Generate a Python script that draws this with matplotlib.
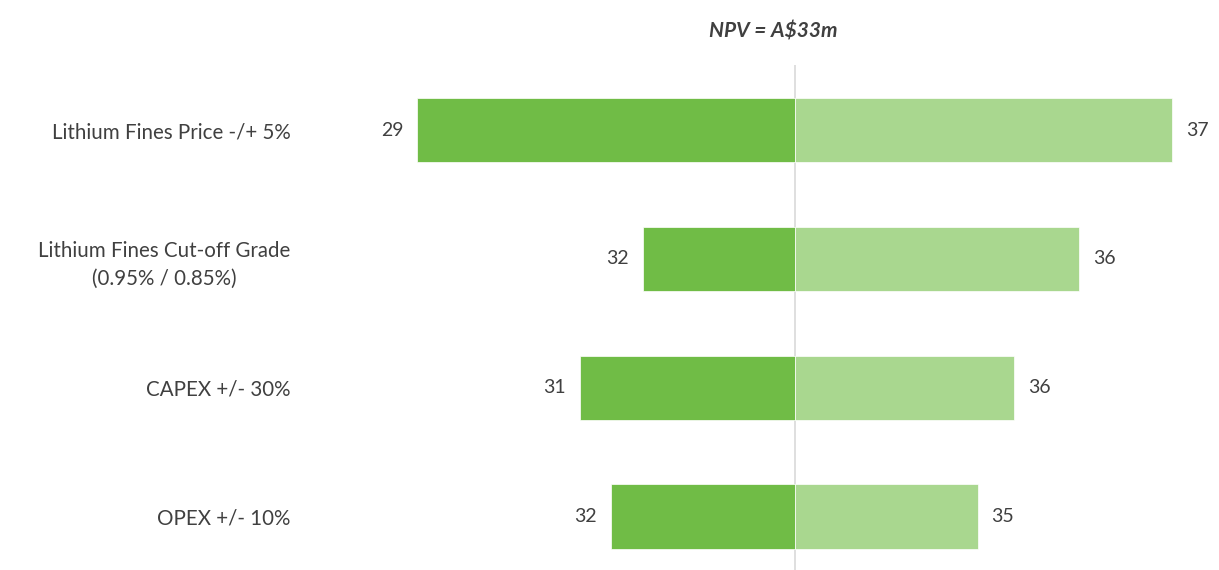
import matplotlib
matplotlib.use("Agg")
import matplotlib.pyplot as plt

# ------------------ DATA ------------------

categories = [
    "Lithium Fines Price -/+ 5%",
    "Lithium Fines Cut-off Grade\n(0.95% / 0.85%)",
    "CAPEX +/- 30%",
    "OPEX +/- 10%",
]
base_npv = 33.0
low_values = [29.0, 31.39, 30.72, 31.05]
high_values = [37.0, 36.02, 35.33, 34.94]
low_labels = ["29", "32", "31", "32"]
high_labels = ["37", "36", "36", "35"]
title = "NPV = A$33m"

# ------------------ STYLE ------------------

DARK_GREEN = "#70bc46"
LIGHT_GREEN = "#a9d78f"
TEXT_COLOR = "#404040"
plt.rcParams["font.family"] = ["Lato", "DejaVu Sans"]

# ------------------ PLOT ------------------

fig = plt.figure(figsize=(12.19, 5.70), dpi=100)
ax = fig.add_axes([310 / 1219, 0, 1 - 310 / 1219, (570 - 65) / 570])

ypos = list(range(len(categories)))
for y, lo, hi, lo_lab, hi_lab in zip(ypos, low_values, high_values, low_labels, high_labels):
    ax.barh(y, lo - base_npv, left=base_npv, height=0.5, color=DARK_GREEN,
            edgecolor="white", linewidth=0.5)
    ax.barh(y, hi - base_npv, left=base_npv, height=0.5, color=LIGHT_GREEN,
            edgecolor="white", linewidth=0.5)
    ax.annotate(lo_lab, (lo, y), xytext=(-10, 0), textcoords="offset points",
                ha="right", va="center", fontsize=14, color=TEXT_COLOR)
    ax.annotate(hi_lab, (hi, y), xytext=(10, 0), textcoords="offset points",
                ha="left", va="center", fontsize=14, color=TEXT_COLOR)

ax.axvline(base_npv, color="#d9d9d9", linewidth=1.2, zorder=0)

ax.set_xlim(27.86, 37.5)
ax.set_ylim(3.415, -0.505)
ax.set_yticks(ypos)
ax.set_yticklabels(categories, fontsize=14.8, color=TEXT_COLOR, ha="right",
                   multialignment="center", linespacing=1.5)
ax.tick_params(axis="y", length=0, pad=14)
ax.set_xticks([])
for side in ax.spines.values():
    side.set_visible(False)

fig.text(773 / 1219, 1 - 32 / 570, title, ha="center", va="center",
         fontsize=15, fontweight="bold", fontstyle="italic", color=TEXT_COLOR)

fig.savefig("out.png", dpi=100)
